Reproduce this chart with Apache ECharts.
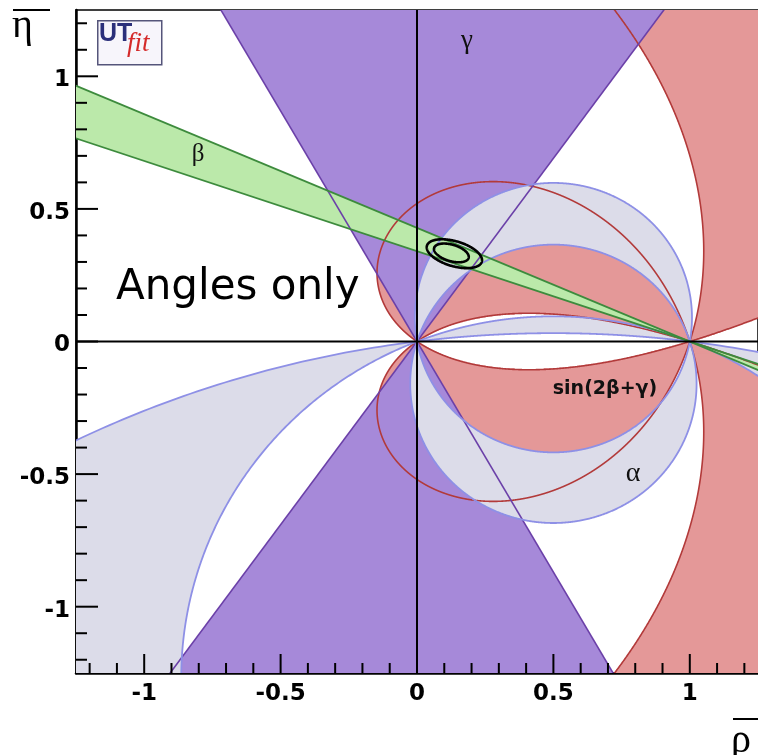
<!DOCTYPE html>
<html><head><meta charset="utf-8">
<script src="https://cdn.jsdelivr.net/npm/echarts@6/dist/echarts.min.js"></script>
<style>html,body{margin:0;padding:0;background:#fff}#main{width:758px;height:755px}</style>
</head><body><div id="main"></div>
<script>
// ---------------- data ----------------
const xRange = [-1.25, 1.25];
const yRange = [-1.25, 1.25];
const tickValues = [-1, -0.5, 0, 0.5, 1];
const tickLabels = ['-1', '-0.5', '0', '0.5', '1'];
const minorTickValues = [-1.2, -1.1, -0.9, -0.8, -0.7, -0.6, -0.4, -0.3, -0.2, -0.1,
                         0.1, 0.2, 0.3, 0.4, 0.6, 0.7, 0.8, 0.9, 1.1, 1.2];
const gammaBandDeg = [54.1, 119.9];                   // gamma (mod 180), apex (0,0)
const betaBandDeg = [18.8, 23.2];                     // beta (mod 180), apex (1,0)
const alphaBandsDeg = [[79.8, 107.7], [158.5, 172.8]]; // alpha (mod 180)
const sin2bgMin = 0.574;                              // |sin(2beta+gamma)| >= value
const contourInner = [0.126, 0.334, 0.066, 0.031, -17]; // cx, cy, a, b, tilt(deg)
const contourOuter = [0.137, 0.331, 0.105, 0.047, -17];
const textLabels = ['\u03b3', '\u03b2', '\u03b1', 'sin(2\u03b2+\u03b3)', 'Angles only'];

// ---------------- styles ----------------
const C = {
  red: '#e49898', redLine: '#b23a3a',
  purple: '#a689d9', purpleLine: '#6b40a8',
  grey: '#dcdce9', blueLine: '#8e90e6',
  green: '#bbe9aa', greenLine: '#3d8b3d'
};
const D = Math.PI / 180;
const BIG = 12;

// ---------------- geometry from the constraints ----------------
function doubleCone(apex, band) {
  const out = [];
  for (const off of [0, 180]) {
    const pts = [apex.slice()];
    const n = 16;
    for (let i = 0; i <= n; i++) {
      const a = (band[0] + off + (band[1] - band[0]) * i / n) * D;
      pts.push([apex[0] + BIG * Math.cos(a), apex[1] + BIG * Math.sin(a)]);
    }
    out.push(pts);
  }
  return out;
}
function fullLine(apex, deg) {
  const a = deg * D;
  return [[apex[0] - BIG * Math.cos(a), apex[1] - BIG * Math.sin(a)],
          [apex[0] + BIG * Math.cos(a), apex[1] + BIG * Math.sin(a)]];
}
const gammaPolys = doubleCone([0, 0], gammaBandDeg);
const betaDir = [180 - betaBandDeg[1], 180 - betaBandDeg[0]];
const betaPolys = doubleCone([1, 0], betaDir);
const gammaLines = gammaBandDeg.map(g => fullLine([0, 0], g));
const betaLines = betaDir.map(b => fullLine([1, 0], b));

function alphaArc(aDeg, upper) {
  const a = aDeg * D;
  const k = 0.5 / Math.tan(a), r = 0.5 / Math.abs(Math.sin(a));
  const t0 = Math.atan2(-k, -0.5);
  let t1 = Math.atan2(-k, 0.5);
  if (upper) { while (t1 > t0) t1 -= 2 * Math.PI; }
  else { while (t1 < t0) t1 += 2 * Math.PI; }
  const n = 900, pts = [];
  for (let i = 0; i <= n; i++) {
    const t = t0 + (t1 - t0) * i / n;
    pts.push([0.5 + r * Math.cos(t), k + r * Math.sin(t)]);
  }
  return pts;
}
const alphaPolys = [], alphaCircles = [];
alphaBandsDeg.forEach(([a1, a2]) => {
  for (const up of [true, false]) {
    alphaPolys.push(alphaArc(a1, up).concat(alphaArc(a2, up).reverse()));
  }
  for (const a of [a1, a2]) {
    alphaCircles.push(alphaArc(a, true).concat(alphaArc(a, false).reverse()));
  }
});

// sin(2beta+gamma) region as horizontal strips
function sin2bg(x, y) {
  const gam = Math.atan2(y, x);
  const bet = -Math.atan2(-y, 1 - x);
  return Math.sin(gam + 2 * bet);
}
const redStrips = [];
(function () {
  const NR = 700, NX = 1400;
  const dy = (yRange[1] - yRange[0]) / NR, dx = (xRange[1] - xRange[0]) / NX;
  for (let j = 0; j < NR; j++) {
    const y0 = yRange[0] + j * dy, y1 = y0 + dy, y = y0 + dy / 2;
    let prevF = null, start = null, px = null;
    for (let i = 0; i <= NX; i++) {
      const x = xRange[0] + i * dx;
      const f = Math.abs(sin2bg(x, y)) - sin2bgMin;
      if (prevF === null) { if (f >= 0) start = x; }
      else {
        if (prevF < 0 && f >= 0) start = px + dx * (-prevF) / (f - prevF);
        if (prevF >= 0 && f < 0) {
          const xe = px + dx * prevF / (prevF - f);
          redStrips.push([start, xe, y0, y1]); start = null;
        }
      }
      prevF = f; px = x;
    }
    if (start !== null) redStrips.push([start, xRange[1], y0, y1]);
  }
})();
function sbgCurve(cDeg) {
  const segs = []; let cur = [];
  const N = 9000;
  for (let i = 1; i < N; i++) {
    const t = (cDeg - 180 + 180 * i / N) * D;
    const r = Math.sin(t) / Math.sin(cDeg * D - t);
    const ang = cDeg * D - 2 * t;
    const x = r * Math.cos(ang), y = r * Math.sin(ang);
    if (Math.abs(x) > 6 || Math.abs(y) > 6) { if (cur.length > 1) segs.push(cur); cur = []; continue; }
    cur.push([x, y]);
  }
  if (cur.length > 1) segs.push(cur);
  return segs;
}
const phi = Math.asin(sin2bgMin) / D;
const redCurves = sbgCurve(phi).concat(sbgCurve(180 - phi));

function ellipse([cx, cy, a, b, tilt]) {
  const pts = [], th = tilt * D;
  for (let i = 0; i <= 240; i++) {
    const t = 2 * Math.PI * i / 240;
    const u = a * Math.cos(t), v = b * Math.sin(t);
    pts.push([cx + u * Math.cos(th) - v * Math.sin(th), cy + u * Math.sin(th) + v * Math.cos(th)]);
  }
  return pts;
}
const contours = [ellipse(contourInner), ellipse(contourOuter)];
const zeroLines = [[[0, yRange[0]], [0, yRange[1]]], [[xRange[0], 0], [xRange[1], 0]]];

// ---------------- series helpers ----------------
function shapeSeries(polys, kind, style, z) {
  return {
    type: 'custom', coordinateSystem: 'cartesian2d', z: z, clip: true, silent: true,
    animation: false, progressive: 0,
    data: polys.map((_, i) => [0, 0, i]),
    renderItem: (params, api) => ({
      type: kind,
      shape: { points: polys[params.dataIndex].map(p => api.coord(p)) },
      style: style
    })
  };
}
const tickData = [];
tickValues.forEach(v => { tickData.push([v, 0]); tickData.push([v, 2]); });
minorTickValues.forEach(v => { tickData.push([v, 1]); tickData.push([v, 3]); });
const labelData = [];
tickValues.forEach((v, i) => { labelData.push([v, 0, i]); labelData.push([v, 1, i]); });

const option = {
  backgroundColor: '#fff',
  animation: false,
  grid: { left: 76, right: 0, top: 10, bottom: 82, show: true, borderColor: '#000', borderWidth: 1.5 },
  xAxis: { type: 'value', min: xRange[0], max: xRange[1], axisLine: { onZero: false, lineStyle: { color: '#000', width: 2.5 } },
           axisTick: { show: false }, axisLabel: { show: false }, splitLine: { show: false } },
  yAxis: { type: 'value', min: yRange[0], max: yRange[1], axisLine: { onZero: false, lineStyle: { color: '#000', width: 2.5 } },
           axisTick: { show: false }, axisLabel: { show: false }, splitLine: { show: false } },
  series: [
    {
      type: 'custom', coordinateSystem: 'cartesian2d', z: 1, clip: true, silent: true, animation: false, progressive: 0,
      data: redStrips, encode: { x: [0, 1], y: [2, 3] },
      renderItem: (params, api) => {
        const p0 = api.coord([api.value(0), api.value(3)]);
        const p1 = api.coord([api.value(1), api.value(2)]);
        return { type: 'rect', shape: { x: p0[0], y: p0[1] - 0.6, width: p1[0] - p0[0], height: p1[1] - p0[1] + 1.2 },
                 style: { fill: C.red } };
      }
    },
    shapeSeries(gammaPolys, 'polygon', { fill: C.purple }, 2),
    shapeSeries(alphaPolys, 'polygon', { fill: C.grey }, 3),
    shapeSeries(betaPolys, 'polygon', { fill: C.green }, 4),
    shapeSeries(redCurves, 'polyline', { fill: null, stroke: C.redLine, lineWidth: 1.6 }, 5),
    shapeSeries(gammaLines, 'polyline', { fill: null, stroke: C.purpleLine, lineWidth: 1.6 }, 6),
    shapeSeries(alphaCircles, 'polyline', { fill: null, stroke: C.blueLine, lineWidth: 1.8 }, 7),
    shapeSeries(betaLines, 'polyline', { fill: null, stroke: C.greenLine, lineWidth: 1.8 }, 8),
    shapeSeries(zeroLines, 'polyline', { fill: null, stroke: '#000', lineWidth: 2 }, 9),
    shapeSeries(contours, 'polyline', { fill: null, stroke: '#000', lineWidth: 2.6 }, 10),
    {
      type: 'custom', coordinateSystem: 'cartesian2d', z: 11, clip: false, silent: true, animation: false,
      data: tickData,
      renderItem: (params, api) => {
        const v = api.value(0), kind = api.value(1);
        let p, q;
        if (kind < 2) { p = api.coord([xRange[0], v]); q = [p[0] + (kind === 0 ? 22 : 11), p[1]]; }
        else { p = api.coord([v, yRange[0]]); q = [p[0], p[1] - (kind === 2 ? 19 : 10)]; }
        return { type: 'line', shape: { x1: p[0], y1: p[1], x2: q[0], y2: q[1] }, style: { stroke: '#000', lineWidth: 2 } };
      }
    },
    {
      type: 'custom', coordinateSystem: 'cartesian2d', z: 11, clip: false, silent: true, animation: false,
      data: labelData,
      renderItem: (params, api) => {
        const v = api.value(0), axis = api.value(1), idx = api.value(2);
        const font = 'bold 23px "DejaVu Sans"';
        if (axis === 0) {
          const p = api.coord([xRange[0], v]);
          return { type: 'text', style: { text: tickLabels[idx], x: p[0] - 6, y: p[1] + 4, font, fill: '#000', align: 'right', verticalAlign: 'middle' } };
        }
        const p = api.coord([v, yRange[0]]);
        return { type: 'text', style: { text: tickLabels[idx], x: p[0], y: p[1] + 21, font, fill: '#000', align: 'center', verticalAlign: 'middle' } };
      }
    }
  ],
  graphic: [
    // UTfit logo
    { type: 'rect', left: 97, top: 20, shape: { width: 64, height: 44 }, style: { fill: '#f7f5fb', stroke: '#55557a', lineWidth: 1.5 }, z: 100 },
    { type: 'text', left: 99, top: 22, style: { text: 'UT', font: 'bold 25px "Liberation Sans Narrow", "Liberation Sans"', fill: '#2b2f7a' }, z: 101 },
    { type: 'text', left: 127, top: 30, style: { text: 'fit', font: 'italic 27px "Liberation Serif"', fill: '#d42a2a' }, z: 101 },
    // axis names
    { type: 'text', x: 731, y: 741, style: { text: '\u03c1', font: '40px "Liberation Serif"', fill: '#000', align: 'left', verticalAlign: 'middle' }, z: 100 },
    { type: 'line', shape: { x1: 733, y1: 719, x2: 758, y2: 719 }, style: { stroke: '#000', lineWidth: 2 }, z: 100 },
    { type: 'text', x: 12, y: 26, style: { text: '\u03b7', font: '40px "Liberation Serif"', fill: '#000', align: 'left', verticalAlign: 'middle' }, z: 100 },
    { type: 'line', shape: { x1: 13, y1: 10, x2: 50, y2: 10 }, style: { stroke: '#000', lineWidth: 2 }, z: 100 },
    // annotations
    { type: 'text', x: 467, y: 41, style: { text: textLabels[0], font: '27px "Liberation Serif"', fill: '#111', align: 'center', verticalAlign: 'middle' }, z: 100 },
    { type: 'text', x: 198, y: 154, style: { text: textLabels[1], font: '25px "Liberation Serif"', fill: '#111', align: 'center', verticalAlign: 'middle' }, z: 100 },
    { type: 'text', x: 633, y: 474, style: { text: textLabels[2], font: '28px "Liberation Serif"', fill: '#111', align: 'center', verticalAlign: 'middle' }, z: 100 },
    { type: 'text', x: 605, y: 389, style: { text: textLabels[3], font: 'bold 19px "DejaVu Sans"', fill: '#111', align: 'center', verticalAlign: 'middle' }, z: 100 },
    { type: 'text', x: 116, y: 288, style: { text: textLabels[4], font: '42px "DejaVu Sans"', fill: '#000', align: 'left', verticalAlign: 'middle' }, z: 100 }
  ]
};
const chart = echarts.init(document.getElementById('main'));
chart.setOption(option);
</script></body></html>
